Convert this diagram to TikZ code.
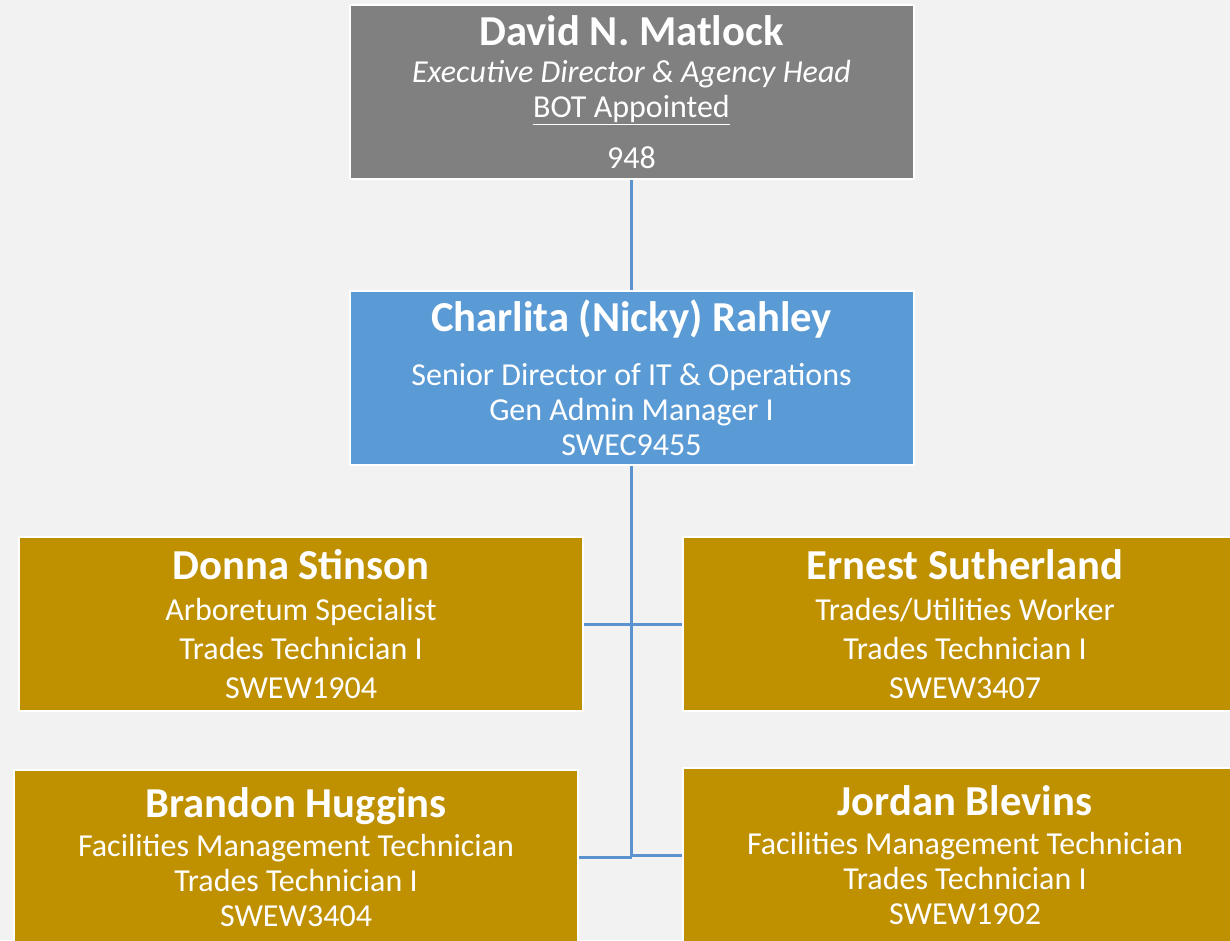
\documentclass[tikz,border=0pt]{standalone}
\usepackage{fontspec}
\setmainfont{Carlito}
\usetikzlibrary{positioning}
\definecolor{bgc}{HTML}{F2F2F2}
\definecolor{headc}{HTML}{808080}
\definecolor{mgrc}{HTML}{5B9BD5}
\definecolor{staffc}{HTML}{BF9000}
\definecolor{linkc}{HTML}{5A93CF}
\newcommand{\pname}[1]{{\fontsize{32}{34}\selectfont\bfseries #1}}

\begin{document}
\begin{tikzpicture}[x=0.75pt,y=-0.75pt,
    box/.style={draw=white,line width=1.5pt,minimum width=423pt,minimum height=130.5pt,
        inner sep=0pt,align=center,text=white,font=\fontsize{24}{26.25}\selectfont},
    link/.style={draw=linkc,line width=2.25pt}]
    \useasboundingbox (0,0) rectangle (1230,940);
    \clip (0,0) rectangle (1230,940);
    \fill [bgc] (0,0) rectangle (1230,940);

    % boxes
    \node [box,fill=headc] (head) at (631.5,92) {\pname{David N. Matlock}\\[1.5pt]
        \textit{Executive Director \& Agency Head}\\
        \underline{BOT Appointed}\\[12pt]
        948};
    \node [box,fill=mgrc] (mgr) at (631.5,378) {\pname{Charlita (Nicky) Rahley}\\[14.5pt]
        Senior Director of IT \& Operations\\
        Gen Admin Manager I\\
        SWEC9455};
    \node [box,fill=staffc] (donna) at (301,624) {\pname{Donna Stinson}\\[4.5pt]
        Arboretum Specialist\\[3pt]
        Trades Technician I\\[3pt]
        SWEW1904};
    \node [box,fill=staffc] (ernest) at (965,624) {\pname{Ernest Sutherland}\\[4.5pt]
        Trades/Utilities Worker\\[3pt]
        Trades Technician I\\[3pt]
        SWEW3407};
    \node [box,fill=staffc] (brandon) at (296,857) {\pname{Brandon Huggins}\\[3pt]
        Facilities Management Technician\\
        Trades Technician I\\
        SWEW3404};
    \node [box,fill=staffc] (jordan) at (965,855) {\pname{Jordan Blevins}\\[3pt]
        Facilities Management Technician\\
        Trades Technician I\\
        SWEW1902};

    % connectors
    \coordinate (trunk) at (mgr.south |- brandon.east);
    \draw [link] (head.south) -- (mgr.north);
    \draw [link] (mgr.south) -- (trunk);
    \draw [link] (donna.east) -- (ernest.west);
    \draw [link] (brandon.east) -- (trunk);
    \draw [link] (jordan.west) -- (jordan.west -| trunk);
\end{tikzpicture}
\end{document}
